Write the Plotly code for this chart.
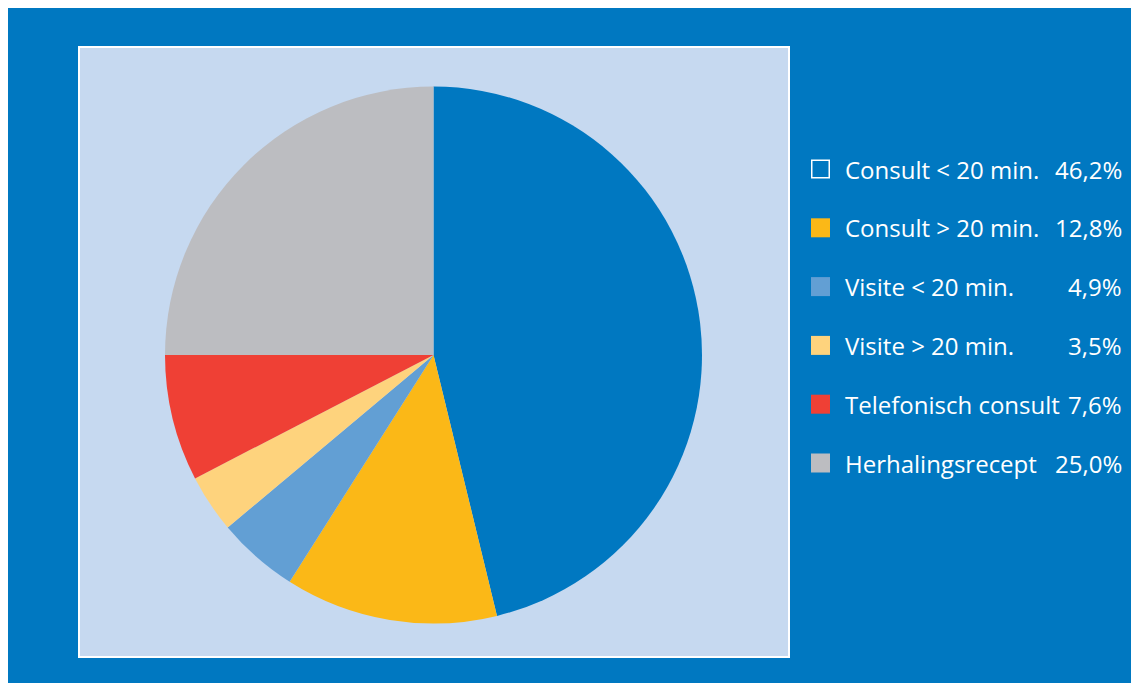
import plotly.graph_objects as go

# Distribution of contact types
categories = [
    "Consult < 20 min.",
    "Consult > 20 min.",
    "Visite < 20 min.",
    "Visite > 20 min.",
    "Telefonisch consult",
    "Herhalingsrecept",
]
shares = [46.2, 12.8, 4.9, 3.5, 7.6, 25.0]
slice_colors = ["#0078C1", "#FBB817", "#629FD4", "#FED37D", "#EF4035", "#BCBDC1"]

W, H = 1131, 683
BG_BLUE = "#0078C1"
PANEL = "#C6D9F0"
FONT = "Open Sans"
FONT_SIZE = 24


def px(x):
    return x / W


def py(y):
    return 1 - y / H


# pie placement (pixels)
cx, cy, r = 433.5, 355, 268.5

fig = go.Figure(
    go.Pie(
        labels=categories,
        values=shares,
        marker=dict(colors=slice_colors, line=dict(width=0)),
        sort=False,
        direction="clockwise",
        rotation=0,
        textinfo="none",
        hoverinfo="label+percent",
        showlegend=False,
        domain=dict(x=[px(cx - r), px(cx + r)], y=[py(cy + r), py(cy - r)]),
    )
)

shapes = [
    # outer blue frame
    dict(type="rect", xref="paper", yref="paper",
         x0=px(8), x1=1, y0=0, y1=py(8),
         fillcolor=BG_BLUE, line=dict(width=0), layer="below"),
    # light inner panel with white border
    dict(type="rect", xref="paper", yref="paper",
         x0=px(79), x1=px(789), y0=py(657), y1=py(47),
         fillcolor=PANEL, line=dict(color="white", width=2), layer="below"),
]

annotations = []
row_y0, row_step = 169, 58.8
sq = 19
sq_x0 = 811
for i, (name, val, col) in enumerate(zip(categories, shares, slice_colors)):
    yc = row_y0 + i * row_step
    if i == 0:
        # slice colour equals the background, so draw an outline swatch
        shapes.append(dict(type="rect", xref="paper", yref="paper",
                           x0=px(sq_x0 + 0.75), x1=px(sq_x0 + sq - 0.75),
                           y0=py(yc + sq / 2 - 0.75), y1=py(yc - sq / 2 + 0.75),
                           fillcolor="rgba(0,0,0,0)", line=dict(color="white", width=1.5)))
    else:
        shapes.append(dict(type="rect", xref="paper", yref="paper",
                           x0=px(sq_x0), x1=px(sq_x0 + sq),
                           y0=py(yc + sq / 2), y1=py(yc - sq / 2),
                           fillcolor=col, line=dict(width=0)))
    annotations.append(dict(xref="paper", yref="paper", x=px(843), y=py(yc),
                            xanchor="left", yanchor="middle", showarrow=False,
                            text=name, font=dict(family=FONT, size=FONT_SIZE, color="white")))
    annotations.append(dict(xref="paper", yref="paper", x=px(1124), y=py(yc),
                            xanchor="right", yanchor="middle", showarrow=False,
                            text=f"{val:.1f}%".replace(".", ","),
                            font=dict(family=FONT, size=FONT_SIZE, color="white")))

fig.update_layout(
    width=W, height=H,
    margin=dict(l=0, r=0, t=0, b=0),
    paper_bgcolor="white",
    plot_bgcolor="white",
    shapes=shapes,
    annotations=annotations,
)

fig.write_html("out.html", config={"displayModeBar": False})
